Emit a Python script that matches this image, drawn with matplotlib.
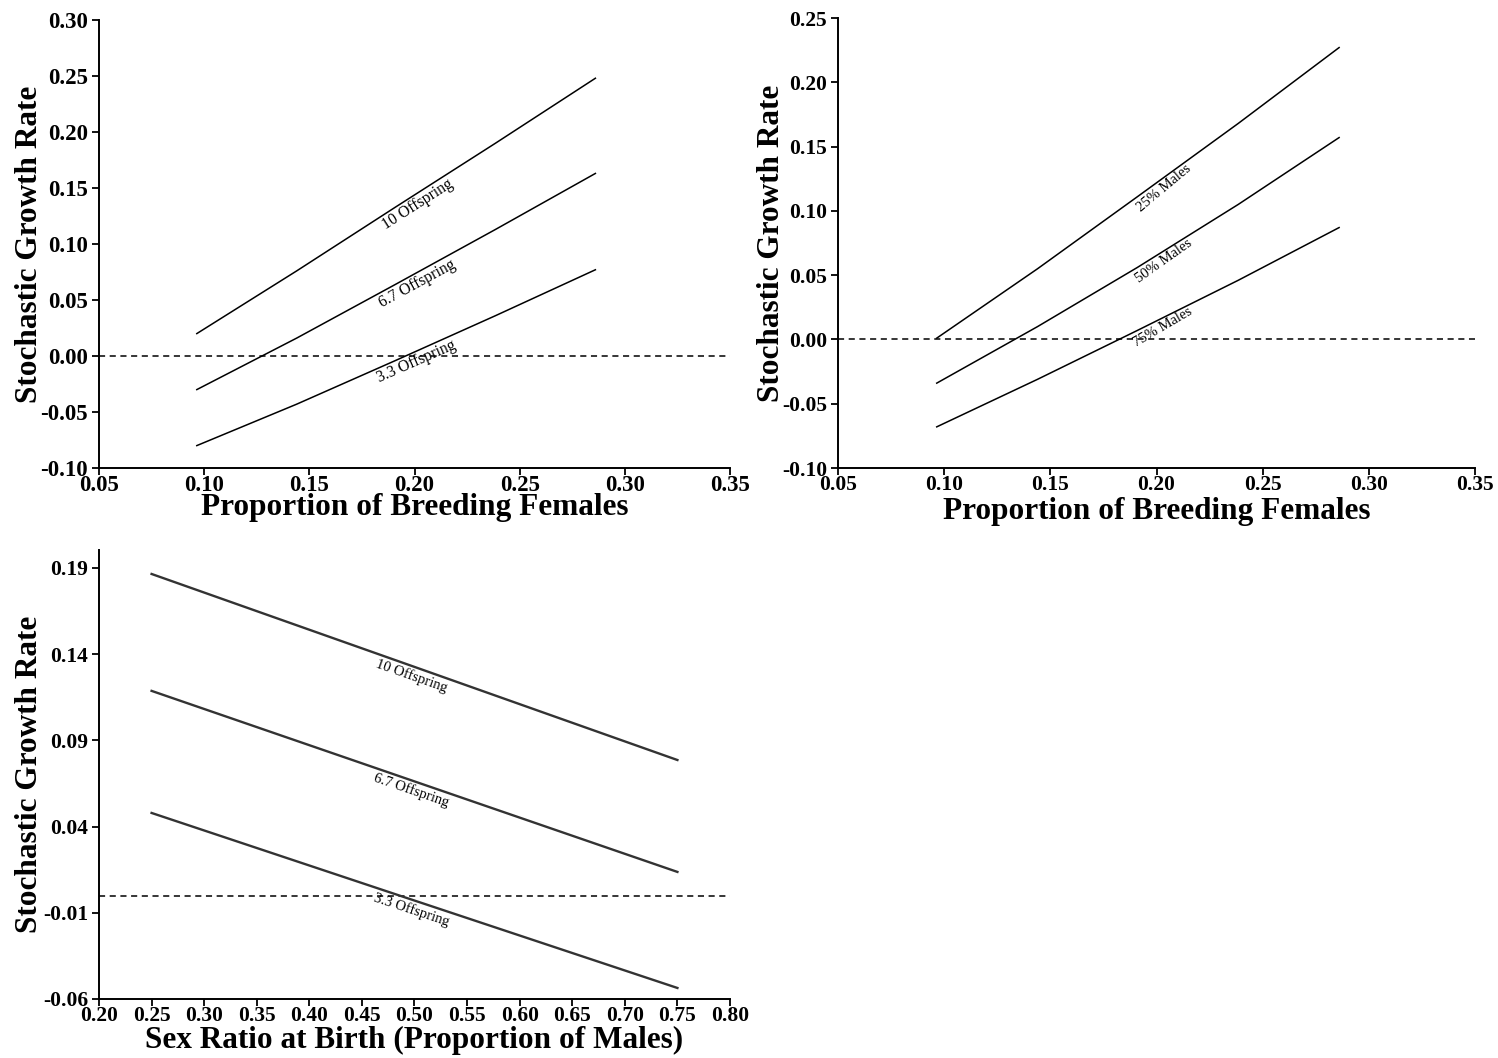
import numpy as np
import matplotlib
matplotlib.use("Agg")
import matplotlib.pyplot as plt

plt.rcParams['font.family'] = ['Liberation Serif', 'DejaVu Serif']

# ---- data ----
bf_x = [0.0965, 0.144, 0.191, 0.2385, 0.286]
p1_labels = ["10 Offspring", "6.7 Offspring", "3.3 Offspring"]
p1_vals = [
    [0.020, 0.076, 0.133, 0.190, 0.248],
    [-0.030, 0.016, 0.064, 0.113, 0.163],
    [-0.080, -0.043, -0.004, 0.036, 0.077],
]
p2_labels = ["25% Males", "50% Males", "75% Males"]
p2_vals = [
    [0.001, 0.055, 0.111, 0.168, 0.227],
    [-0.034, 0.010, 0.056, 0.105, 0.157],
    [-0.068, -0.031, 0.007, 0.046, 0.087],
]
sr_x = [0.25, 0.50, 0.75]
p3_labels = ["10 Offspring", "6.7 Offspring", "3.3 Offspring"]
p3_vals = [
    [0.1865, 0.1326, 0.0786],
    [0.1187, 0.0662, 0.0137],
    [0.0479, -0.0029, -0.0536],
]
p1_xticks = [0.05, 0.10, 0.15, 0.20, 0.25, 0.30, 0.35]
p1_yticks = [-0.10, -0.05, 0.00, 0.05, 0.10, 0.15, 0.20, 0.25, 0.30]
p2_yticks = [-0.10, -0.05, 0.00, 0.05, 0.10, 0.15, 0.20, 0.25]
p3_xticks = [0.20, 0.25, 0.30, 0.35, 0.40, 0.45, 0.50, 0.55, 0.60, 0.65, 0.70, 0.75, 0.80]
p3_yticks = [-0.06, -0.01, 0.04, 0.09, 0.14, 0.19]

W, H = 1498, 1058
fig = plt.figure(figsize=(W / 100, H / 100), dpi=100)


def add_ax(l, r, t, b):
    return fig.add_axes([l / W, 1 - b / H, (r - l) / W, (b - t) / H])


def style(ax, xticks, yticks, xlim, ylim, xlabel, ylabel, tfs, xlab_y, ylab_x):
    ax.set_xlim(*xlim)
    ax.set_ylim(*ylim)
    for s in ['top', 'right']:
        ax.spines[s].set_visible(False)
    for s in ['left', 'bottom']:
        ax.spines[s].set_linewidth(1.4)
    ax.set_xticks(xticks)
    ax.set_yticks(yticks)
    ax.set_xticklabels([f"{v:.2f}" for v in xticks], fontsize=tfs, fontweight='bold')
    ax.set_yticklabels([f"{v:.2f}" for v in yticks], fontsize=tfs, fontweight='bold')
    ax.tick_params(axis='both', direction='out', length=5, width=1.3)
    ax.tick_params(axis='x', pad=0)
    ax.tick_params(axis='y', pad=3)
    ax.set_xlabel(xlabel, fontsize=22.5, fontweight='bold', va='center')
    ax.set_ylabel(ylabel, fontsize=22.5, fontweight='bold', va='center')
    ax.xaxis.set_label_coords(0.5, xlab_y)
    ax.yaxis.set_label_coords(ylab_x, 0.5)
    ax.axhline(0, color='black', lw=1.1, ls=(0, (4, 3)))


def inline_label(ax, xs, ys, xpos, text, fs, off=6.5, angle_extra=0):
    y = np.interp(xpos, xs, ys)
    p0 = ax.transData.transform((xs[0], ys[0]))
    p1 = ax.transData.transform((xs[-1], ys[-1]))
    ang = np.degrees(np.arctan2(p1[1] - p0[1], p1[0] - p0[0])) + angle_extra
    th = np.radians(ang)
    dx, dy = off * np.sin(th), -off * np.cos(th)
    ax.annotate(text, (xpos, y), xytext=(dx, dy), textcoords='offset points',
                rotation=ang, rotation_mode='anchor', ha='center', va='center',
                fontsize=fs, color='black')


# Panel 1
ax1 = add_ax(99, 730, 20, 468)
style(ax1, p1_xticks, p1_yticks, (0.05, 0.35), (-0.10, 0.30),
      "Proportion of Breeding Females", "Stochastic Growth Rate", 16.5,
      (468 - 508) / 448, (30 - 99) / 631)
for vals in p1_vals:
    ax1.plot(bf_x, vals, color='black', lw=1.1)
for vals, lab in zip(p1_vals, p1_labels):
    inline_label(ax1, bf_x, vals, 0.199, lab, 11.3, off=7)

# Panel 2
ax2 = add_ax(838, 1475, 18, 468)
style(ax2, p1_xticks, p2_yticks, (0.05, 0.35), (-0.10, 0.25),
      "Proportion of Breeding Females", "Stochastic Growth Rate", 15.5,
      (468 - 511) / 450, (771 - 838) / 637)
for vals in p2_vals:
    ax2.plot(bf_x, vals, color='black', lw=1.1)
for vals, lab in zip(p2_vals, p2_labels):
    inline_label(ax2, bf_x, vals, 0.201, lab, 10.5, angle_extra=4)

# Panel 3
ax3 = add_ax(99, 730, 550, 999)
style(ax3, p3_xticks, p3_yticks, (0.20, 0.80), (-0.06, 0.2004),
      "Sex Ratio at Birth (Proportion of Males)", "Stochastic Growth Rate", 15.5,
      (999 - 1040) / 449, (30 - 99) / 631)
for vals in p3_vals:
    ax3.plot(sr_x, vals, color='#333333', lw=1.7)
for vals, lab in zip(p3_vals, p3_labels):
    inline_label(ax3, sr_x, vals, 0.50, lab, 10.5, off=7)

fig.savefig("out.png", dpi=100)
